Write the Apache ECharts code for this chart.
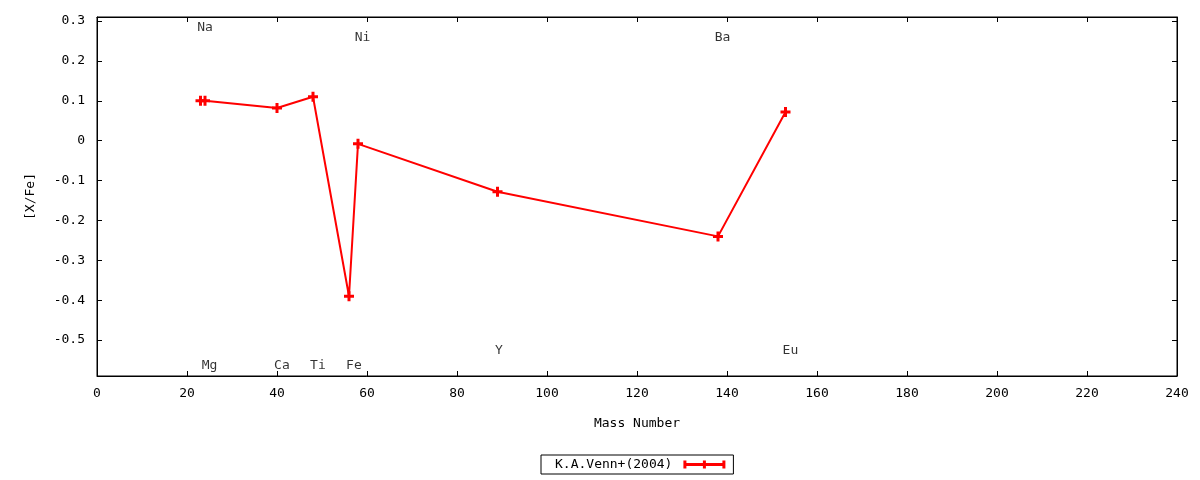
<!DOCTYPE html>
<html>
<head>
<meta charset="utf-8">
<script src="https://cdn.jsdelivr.net/npm/echarts@6/dist/echarts.min.js"></script>
<style>html,body{margin:0;padding:0;background:#fff;}#c{width:1200px;height:480px;}</style>
</head>
<body>
<div id="c"></div>
<script>
// Data
var massNumbers = [23, 24, 40, 48, 56, 58, 89, 138, 153];
var xfeValues   = [0.10, 0.10, 0.082, 0.11, -0.39, -0.008, -0.128, -0.24, 0.072];
var seriesName  = 'K.A.Venn+(2004)';
var elementNames = ['Na', 'Ni', 'Ba', 'Mg', 'Ca', 'Ti', 'Fe', 'Y', 'Eu'];
var labelX       = [24, 59, 139, 25, 41.1, 49.1, 57.1, 89.3, 154.1];
var labelY       = [0.283, 0.258, 0.258, -0.563, -0.563, -0.563, -0.563, -0.527, -0.527];
var yTicks = [-0.5, -0.4, -0.3, -0.2, -0.1, 0, 0.1, 0.2, 0.3];
var xTicks = [0, 20, 40, 60, 80, 100, 120, 140, 160, 180, 200, 220, 240];

var FONT = 'DejaVu Sans Mono';
var FS = 13;

var lineData = massNumbers.map(function (m, i) { return [m, xfeValues[i]]; });
var labelData = elementNames.map(function (n, i) { return { name: n, value: [labelX[i], labelY[i]] }; });

var plusSym = 'path://M3.5,0h3v10h-3z M0,3.5h10v3h-10z';
var legendIcon = 'path://M0,0h3v8h-3z M3,2.5h36v3h-36z M39,0h3v8h-3z M19.5,0h3v8h-3z';

var commonX = {
  type: 'value', min: 0, max: 240, interval: 20,
  axisLine: { show: true, onZero: false, lineStyle: { color: '#000', width: 1 } },
  axisTick: { show: true, inside: true, length: 5, lineStyle: { color: '#000' } },
  splitLine: { show: false }
};
var commonY = {
  type: 'value', min: -0.59, max: 0.31,
  axisLine: { show: true, onZero: false, lineStyle: { color: '#000', width: 1 } },
  axisTick: { show: true, inside: true, length: 5, customValues: yTicks, lineStyle: { color: '#000' } },
  splitLine: { show: false }
};

var chart = echarts.init(document.getElementById('c'), null, { renderer: 'canvas' });
chart.setOption({
  backgroundColor: '#fff',
  animation: false,
  textStyle: { fontFamily: FONT },
  grid: { left: 97, right: 23, top: 17, bottom: 104, show: true, borderColor: '#000', borderWidth: 1 },
  legend: {
    data: [{ name: seriesName, icon: legendIcon }],
    left: 541, top: 455,
    align: 'right',
    itemWidth: 42, itemHeight: 8, itemGap: 0,
    padding: [3, 8, 3, 14],
    borderColor: '#000', borderWidth: 1, borderRadius: 0,
    textStyle: { fontFamily: FONT, fontSize: FS, color: '#000', padding: [0, 6, 0, 0] }
  },
  xAxis: [
    Object.assign({}, commonX, {
      position: 'bottom',
      name: 'Mass Number', nameLocation: 'middle', nameGap: 41,
      nameTextStyle: { fontFamily: FONT, fontSize: FS, color: '#000' },
      axisLabel: { show: true, margin: 11, fontFamily: FONT, fontSize: FS, color: '#000',
        customValues: xTicks }
    }),
    Object.assign({}, commonX, { position: 'top', axisLabel: { show: false } })
  ],
  yAxis: [
    Object.assign({}, commonY, {
      position: 'left',
      name: '[X/Fe]', nameLocation: 'middle', nameGap: 60, nameRotate: 90,
      nameTextStyle: { fontFamily: FONT, fontSize: FS, color: '#000' },
      axisLabel: { show: true, margin: 12, fontFamily: FONT, fontSize: FS, color: '#000',
        customValues: yTicks, formatter: function (v) { return String(Math.round(v * 10) / 10); } }
    }),
    Object.assign({}, commonY, { position: 'right', axisLabel: { show: false } })
  ],
  series: [
    {
      name: seriesName, type: 'line', data: lineData,
      xAxisIndex: 0, yAxisIndex: 0,
      symbol: plusSym, symbolSize: 10, showAllSymbol: true,
      lineStyle: { color: '#ff0000', width: 2 },
      itemStyle: { color: '#ff0000' }
    },
    {
      name: 'labels', type: 'scatter', data: labelData,
      xAxisIndex: 0, yAxisIndex: 0,
      symbolSize: 0, silent: true,
      label: { show: true, position: 'inside', formatter: '{b}', fontFamily: FONT, fontSize: FS, color: '#000' }
    }
  ]
});
</script>
</body>
</html>
